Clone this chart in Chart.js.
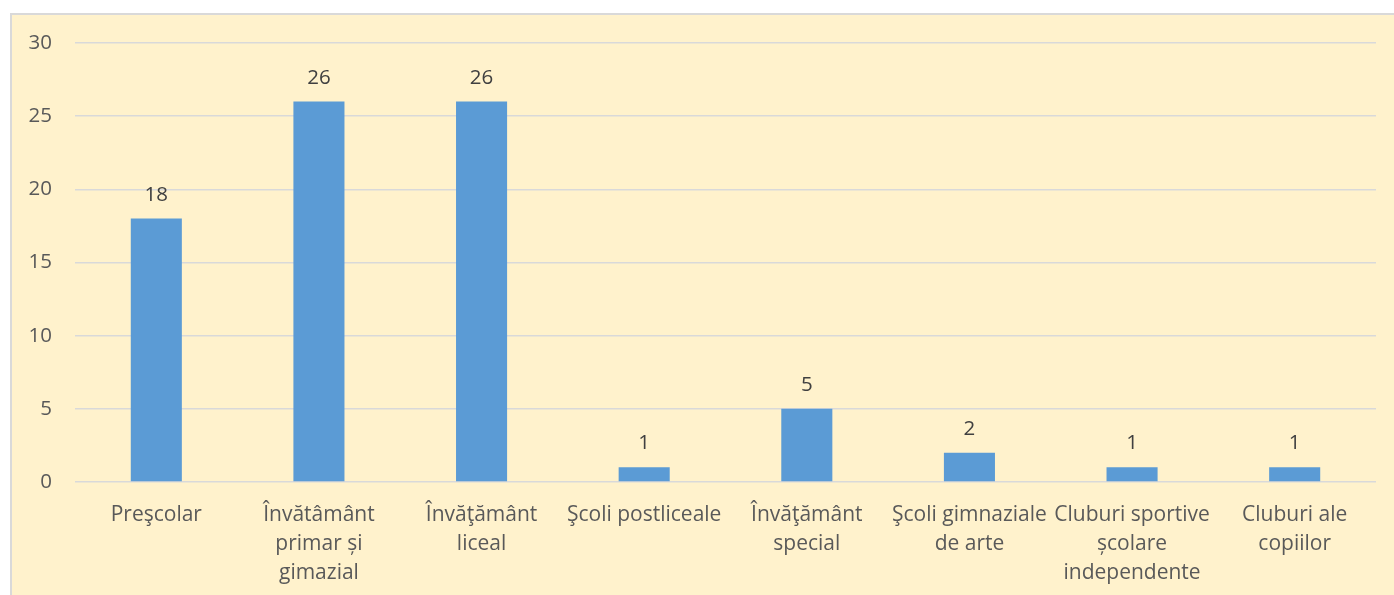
<!DOCTYPE html>
<html><head><meta charset="utf-8">
<script src="https://cdn.jsdelivr.net/npm/chart.js@4.4.1/dist/chart.umd.min.js"></script>
<style>
html,body{margin:0;padding:0;background:#fff;width:1394px;height:595px;overflow:hidden;}
#box{position:absolute;left:10px;top:13px;width:1400px;height:600px;background:#FFF2CC;border:2px solid #D9D9D9;box-sizing:border-box;}
#wrap{position:absolute;left:0;top:0;width:1394px;height:595px;}
</style></head>
<body>
<div id="box"></div>
<div id="wrap"><canvas id="c" width="1394" height="595"></canvas></div>
<script>
const categories = [
  ["Preşcolar"],
  ["Învătâmânt","primar și","gimazial"],
  ["Învăţământ","liceal"],
  ["Şcoli postliceale"],
  ["Învăţământ","special"],
  ["Şcoli gimnaziale","de arte"],
  ["Cluburi sportive","școlare","independente"],
  ["Cluburi ale","copiilor"]
];
const values = [18, 26, 26, 1, 5, 2, 1, 1];
const yTicks = [0, 5, 10, 15, 20, 25, 30];

const FONT = "'Open Sans', Lato, sans-serif";

const valueLabels = {
  id: 'valueLabels',
  afterDatasetsDraw(chart) {
    const ctx = chart.ctx;
    const meta = chart.getDatasetMeta(0);
    ctx.save();
    ctx.font = "20.5px " + FONT;
    ctx.fillStyle = "#404040";
    ctx.textAlign = "center";
    ctx.textBaseline = "alphabetic";
    meta.data.forEach((bar, i) => {
      ctx.fillText(String(values[i]), bar.x, bar.y - 18);
    });
    ctx.restore();
  }
};

new Chart(document.getElementById('c'), {
  type: 'bar',
  data: {
    labels: categories,
    datasets: [{
      data: values,
      backgroundColor: '#5B9BD5',
      borderWidth: 0,
      barPercentage: 1,
      categoryPercentage: 0.314
    }]
  },
  options: {
    responsive: false,
    animation: false,
    devicePixelRatio: 1,
    layout: { padding: { left: 0, top: 43, right: 18, bottom: 0 } },
    plugins: { legend: { display: false }, tooltip: { enabled: false } },
    scales: {
      x: {
        grid: { display: false },
        border: { display: false },
        ticks: {
          color: '#595959',
          font: { family: FONT, size: 21, lineHeight: 1.4 },
          padding: 10,
          maxRotation: 0,
          autoSkip: false
        },
        afterFit(s) { s.height = 113; }
      },
      y: {
        min: 0, max: 30,
        afterBuildTicks(s) { s.ticks = yTicks.map(v => ({ value: v })); },
        grid: { color: '#D9D9D9', lineWidth: 1.5, drawTicks: false },
        border: { display: false },
        ticks: {
          color: '#595959',
          font: { family: FONT, size: 20.5 },
          padding: 23
        },
        afterFit(s) { s.width = 75; }
      }
    }
  },
  plugins: [valueLabels]
});
</script>
</body></html>
